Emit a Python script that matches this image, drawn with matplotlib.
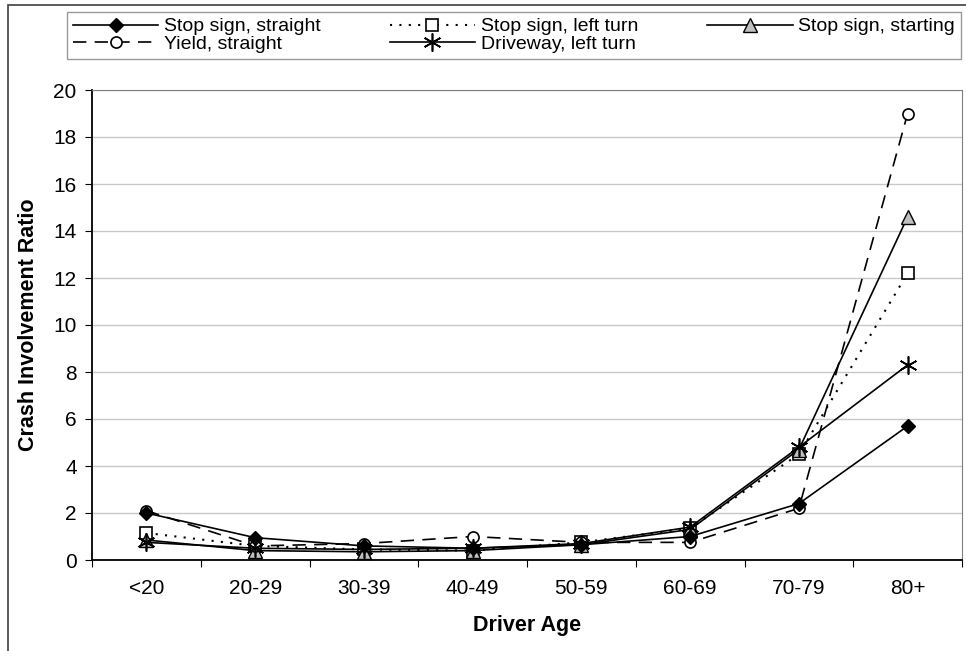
import matplotlib
matplotlib.use("Agg")
from matplotlib import pyplot
from matplotlib.patches import Rectangle

pyplot.rcParams["font.family"] = ["Liberation Sans", "DejaVu Sans"]

ages = ["<20", "20-29", "30-39", "40-49", "50-59", "60-69", "70-79", "80+"]

stop_straight = [2.0, 0.95, 0.6, 0.5, 0.65, 1.0, 2.4, 5.7]
stop_left = [1.15, 0.6, 0.45, 0.4, 0.75, 1.35, 4.5, 12.2]
stop_starting = [0.85, 0.4, 0.35, 0.4, 0.65, 1.3, 4.7, 14.6]
yield_straight = [2.1, 0.6, 0.7, 1.0, 0.75, 0.75, 2.2, 19.0]
driveway_left = [0.75, 0.5, 0.45, 0.5, 0.7, 1.4, 4.8, 8.3]

fig = pyplot.figure(figsize=(9.66, 6.51), dpi=100)
ax = fig.add_axes([92 / 966, 1 - 560 / 651, (962 - 92) / 966, (560 - 90) / 651])

x = range(len(ages))
lw = 1.2
h1, = ax.plot(x, stop_straight, "-", color="black", lw=lw, marker="D", ms=7,
              mfc="black", mec="black", label="Stop sign, straight", zorder=5)
h2, = ax.plot(x, stop_left, color="black", lw=1.5, ls=(0, (1, 3.5)), marker="s", ms=8,
              mfc="white", mec="black", mew=1.2, label="Stop sign, left turn", zorder=4)
h3, = ax.plot(x, stop_starting, "-", color="black", lw=lw, marker="^", ms=10,
              mfc="#c0c0c0", mec="black", mew=1.0, label="Stop sign, starting", zorder=4)
h4, = ax.plot(x, yield_straight, color="black", lw=lw, ls=(0, (8, 5)), marker="o", ms=8,
              mfc="white", mec="black", mew=1.2, label="Yield, straight", zorder=4)
h5, = ax.plot(x, driveway_left, "-", color="black", lw=lw, marker=(6, 2, 0), ms=13,
              mec="black", mew=1.2, label="Driveway, left turn", zorder=4)

ax.set_xlim(-0.5, len(ages) - 0.5)
ax.set_ylim(0, 20)
ax.set_yticks(range(0, 21, 2))
ax.yaxis.grid(True, color="#c8c8c8", lw=1.0)
ax.set_axisbelow(True)

ax.set_xticks([i - 0.5 for i in range(len(ages) + 1)])
ax.set_xticklabels([])
ax.set_xticks(list(x), minor=True)
ax.set_xticklabels(ages, minor=True)
ax.tick_params(axis="x", which="major", direction="out", length=5, color="black")
ax.tick_params(axis="x", which="minor", length=0, pad=14, labelsize=15)
ax.tick_params(axis="y", direction="out", length=5, pad=6, labelsize=15)

for side in ["top", "right"]:
    ax.spines[side].set_color("#808080")
for side in ["left", "bottom"]:
    ax.spines[side].set_color("black")
    ax.spines[side].set_linewidth(1.3)

ax.set_xlabel("Driver Age", fontsize=15.5, fontweight="bold", labelpad=12)
ax.set_ylabel("Crash Involvement Ratio", fontsize=15.5, fontweight="bold", labelpad=10)

leg = fig.legend([h1, h4, h2, h5, h3],
                 ["Stop sign, straight", "Yield, straight", "Stop sign, left turn",
                  "Driveway, left turn", "Stop sign, starting"],
                 ncol=3, loc="upper left", mode="expand",
                 bbox_to_anchor=(67 / 966, 1 - 64 / 651, (961 - 67) / 966, 52 / 651),
                 bbox_transform=fig.transFigure, fancybox=False, frameon=True,
                 edgecolor="#808080", fontsize=14, handlelength=4.4, handletextpad=0.3,
                 borderpad=0.3, labelspacing=0.0, borderaxespad=0)
leg.get_frame().set_linewidth(1.0)

fig.patches.append(Rectangle((8 / 966, -0.05), 1.1, 1 - 5 / 651 + 0.05,
                             transform=fig.transFigure, fill=False,
                             edgecolor="#404040", lw=1.2))

fig.savefig("out.png", dpi=100)
